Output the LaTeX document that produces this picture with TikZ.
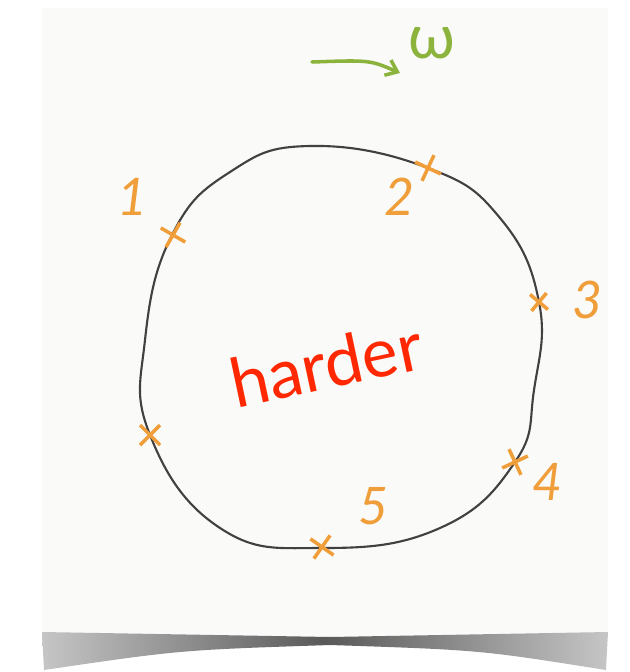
\documentclass[tikz,border=0pt]{standalone}
\usepackage{fontspec}
\setmainfont{Lato}
\usetikzlibrary{shapes.misc,arrows.meta}

\definecolor{paper}{RGB}{250,250,249}
\definecolor{mark}{RGB}{240,158,58}
\definecolor{leaf}{RGB}{140,180,60}
\definecolor{ink}{RGB}{65,65,65}
\definecolor{hot}{RGB}{255,40,0}

\tikzset{
  xmark/.style={cross out, draw=mark, line width=3pt, minimum size=14pt, inner sep=0pt},
  num/.style={text=mark, font=\fontsize{44}{44}\selectfont\itshape, inner sep=0pt},
}

\begin{document}
\begin{tikzpicture}[x=0.85pt,y=-0.85pt]
\useasboundingbox (0,0) rectangle (630,672);

% Papier
\fill[paper] (42,8) rectangle (608,640);
\shade[left color=gray!45, right color=gray!45, middle color=gray!70!black]
  (42,632) -- (330,637) -- (608,632) -- (606,670)
  .. controls (480,650) .. (330,645) .. controls (180,650) .. (44,670) -- cycle;

% Krzywa
\draw[ink, line width=1.8pt] plot[smooth cycle, tension=0.75] coordinates {
  (310,146) (428,168) (500,218) (539,302) (534,390) (515,462)
  (440,528) (322,548) (220,528) (150,435) (145,340) (172,235) (230,172)};

% Punkty
\node[xmark, rotate=15] (p1) at (173,235) {};
\node[xmark, rotate=20] (p2) at (428,168) {};
\node[xmark, rotate=5, minimum size=11pt] (p3) at (539,302) {};
\node[xmark, rotate=-20] (p4) at (515,462) {};
\node[xmark, rotate=10] (p5) at (322,547) {};
\node[xmark, rotate=0] (p6) at (150,435) {};

\node[num] (l1) at (133,197) {1};
\node[num] (l2) at (400,197) {2};
\node[num] (l3) at (588,300) {3};
\node[num] (l4) at (548,482) {4};
\node[num] (l5) at (374,506) {5};

\node[text=hot, rotate=12, font=\fontsize{58}{58}\selectfont] (hard) at (326,364) {harder};

% Omega
\coordinate (w0) at (312,62);
\coordinate (w1) at (400,73);
\draw[leaf, line width=3pt, line cap=round, -{Straight Barb[length=9pt,width=14pt]}]
  (w0) .. controls (370,60) .. (w1);
\node[text=leaf, font=\fontsize{52}{52}\selectfont] (om) at (432,43) {ω};

\end{tikzpicture}
\end{document}
